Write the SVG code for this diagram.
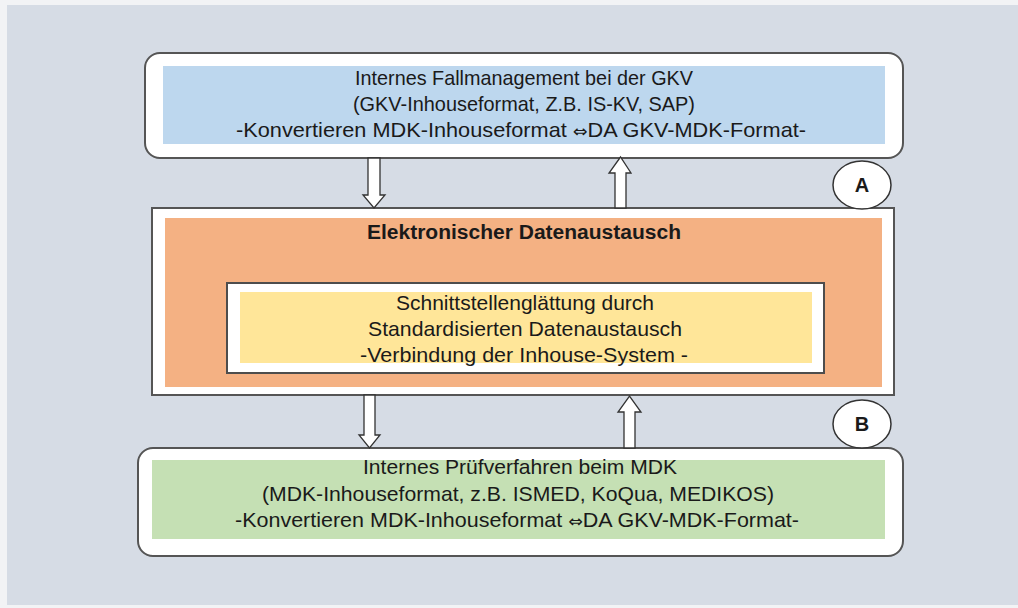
<svg xmlns="http://www.w3.org/2000/svg" width="1018" height="608" viewBox="0 0 1018 608">
<style>
.box{fill:#ffffff;stroke:#555555;stroke-width:2}
.t{font-family:"Liberation Sans Narrow","Liberation Sans",Arial,sans-serif;font-size:21px;fill:#1a1a1a;text-anchor:middle}
.b{font-weight:bold;font-size:20px}
.sym{font-family:"DejaVu Sans",sans-serif;font-size:17px}
.arr{fill:#ffffff;stroke:#333333;stroke-width:1.3;stroke-linejoin:miter}
.lbl{fill:#ffffff;stroke:#333333;stroke-width:1.5}
.ll{font-family:"Liberation Sans",Arial,sans-serif;font-size:20px;font-weight:bold;fill:#1a1a1a;text-anchor:middle}
</style>
<rect x="0" y="0" width="1018" height="608" fill="#f2f3f5"/>
<rect x="7" y="5" width="1011" height="600" fill="#d6dce5"/>

<g id="gkv">
<rect class="box" x="145" y="53" width="758" height="105" rx="15"/>
<rect x="163" y="66" width="722" height="78" fill="#bdd7ee"/>
<text class="t" x="524" y="85" textLength="338" lengthAdjust="spacingAndGlyphs">Internes Fallmanagement bei der GKV</text>
<text class="t" x="524" y="111" textLength="342" lengthAdjust="spacingAndGlyphs">(GKV-Inhouseformat, Z.B. IS-KV, SAP)</text>
<text class="t" x="521" y="137" textLength="570" lengthAdjust="spacingAndGlyphs">-Konvertieren MDK-Inhouseformat <tspan class="sym">⇔</tspan>DA GKV-MDK-Format-</text>
</g>

<g id="eda">
<rect class="box" x="152" y="208" width="742" height="187"/>
<rect x="165" y="218" width="717" height="169" fill="#f4b183"/>
<text class="t b" x="524" y="239" textLength="314" lengthAdjust="spacingAndGlyphs">Elektronischer Datenaustausch</text>
</g>

<g id="schnittstelle">
<rect x="227" y="283" width="597" height="90" fill="#ffffff" stroke="#4d4d4d" stroke-width="2"/>
<rect x="240" y="292" width="572" height="71" fill="#ffe699"/>
<text class="t" x="525" y="310" textLength="258" lengthAdjust="spacingAndGlyphs">Schnittstellenglättung durch</text>
<text class="t" x="525" y="336" textLength="314" lengthAdjust="spacingAndGlyphs">Standardisierten Datenaustausch</text>
<text class="t" x="524" y="362" textLength="328" lengthAdjust="spacingAndGlyphs">-Verbindung der Inhouse-System -</text>
</g>

<g id="mdk">
<rect class="box" x="138" y="448" width="765" height="108" rx="15"/>
<rect x="152" y="460" width="733" height="79" fill="#c5e0b4"/>
<text class="t" x="520" y="474" textLength="314" lengthAdjust="spacingAndGlyphs">Internes Prüfverfahren beim MDK</text>
<text class="t" x="518" y="501" textLength="512" lengthAdjust="spacingAndGlyphs">(MDK-Inhouseformat, z.B. ISMED, KoQua, MEDIKOS)</text>
<text class="t" x="517" y="527" textLength="564" lengthAdjust="spacingAndGlyphs">-Konvertieren MDK-Inhouseformat <tspan class="sym">⇔</tspan>DA GKV-MDK-Format-</text>
</g>

<g id="labelA">
<ellipse class="lbl" cx="862" cy="185" rx="29" ry="24"/>
<text class="ll" x="862" y="192">A</text>
</g>
<g id="labelB">
<ellipse class="lbl" cx="862" cy="424" rx="29" ry="24"/>
<text class="ll" x="862" y="431">B</text>
</g>

<g id="connectors">
<path class="arr" d="M368,158 L380,158 L380,195 L385,195 L374,208 L363,195 L368,195 Z"/>
<path class="arr" d="M615,208 L626,208 L626,173 L631,173 L620.5,157 L609,173 L615,173 Z"/>
<path class="arr" d="M364,395 L375,395 L375,435 L380,435 L369.5,448 L359,435 L364,435 Z"/>
<path class="arr" d="M624,448 L635,448 L635,412 L641,412 L629.5,396 L618,412 L624,412 Z"/>
</g>
</svg>
